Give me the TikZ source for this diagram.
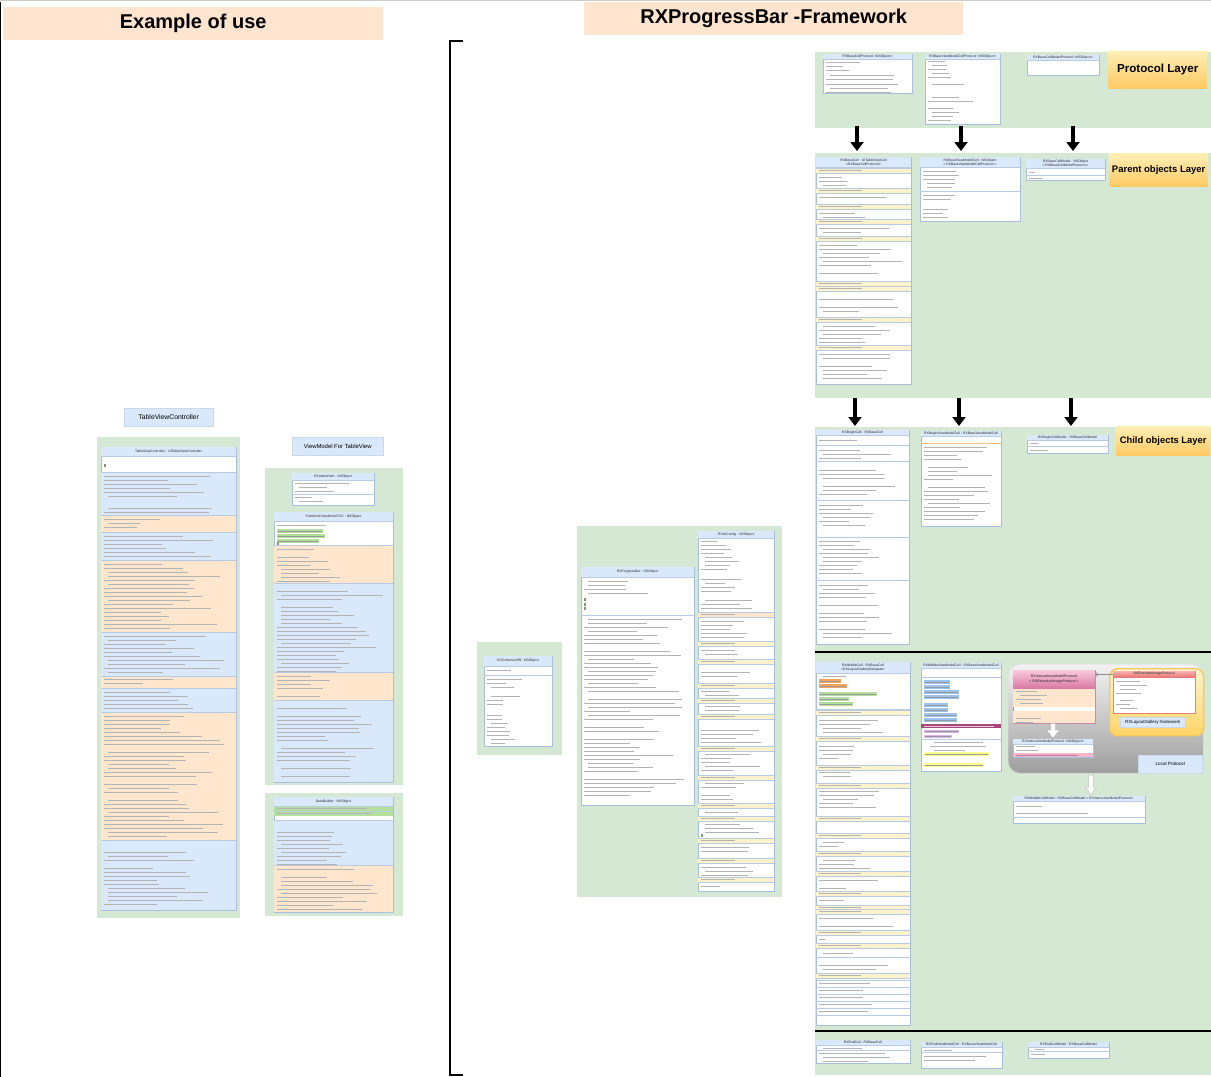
\documentclass[tikz,border=0pt]{standalone}
\usepackage{fontspec}
\setmainfont{Liberation Sans}
\usetikzlibrary{arrows.meta}
\definecolor{pgreen}{HTML}{D5E8D4}
\definecolor{hblue}{HTML}{DAE8FC}
\definecolor{bline}{HTML}{A7BEDC}
\definecolor{peach}{HTML}{FFE6CC}
\definecolor{cyel}{HTML}{FFF2CC}
\definecolor{tgray}{HTML}{B4B4B4}
\definecolor{hlorange}{HTML}{F7A35C}
\definecolor{hlgreen}{HTML}{B3DE9C}
\definecolor{hlblue}{HTML}{9CC3EE}
\definecolor{hlpurple}{HTML}{D9B3E6}
\definecolor{hlyellow}{HTML}{FFFF8C}
\definecolor{magrow}{HTML}{A8487A}
\definecolor{pinkT}{HTML}{F9C9DC}
\definecolor{pinkB}{HTML}{DB7AA5}
\definecolor{pinkline}{HTML}{C98AA8}
\definecolor{redT}{HTML}{F7B0B0}
\definecolor{redB}{HTML}{EB7777}
\definecolor{redline}{HTML}{E08080}
\definecolor{pinkrow}{HTML}{F4B6C8}
\definecolor{yelT}{HTML}{FFF4CC}
\definecolor{yelB}{HTML}{FFD466}
\definecolor{yelD}{HTML}{F6C75A}
\definecolor{labT}{HTML}{FFEFB5}
\definecolor{labB}{HTML}{FFCA63}
\definecolor{tpeach}{HTML}{FFE5CF}
\tikzset{
  panelbox/.style={fill=pgreen, draw=none, anchor=north west, inner sep=0pt, outer sep=0pt},
  ubox/.style={draw=bline, line width=0.5pt, fill=white, anchor=north west, inner sep=0pt, outer sep=0pt},
  htext/.style={font=\fontsize{3.4}{4.1}\selectfont, align=center, inner sep=0pt, text=black!85},
  txtl/.style={draw=tgray, line width=0.5pt},
  sepl/.style={draw=bline!80, line width=0.4pt},
  bigarrow/.style={line width=3.5pt, -{Triangle[width=13pt,length=9pt]}},
  warr/.style={fill=white, draw=black!25, line width=0.5pt},
  titlebox/.style={fill=tpeach, anchor=north west, inner sep=0pt, font=\bfseries\fontsize{20}{24}\selectfont},
  laybox/.style={anchor=north west, inner sep=0pt, top color=labT, bottom color=labB, font=\bfseries},
  lbl/.style={fill=hblue, draw=bline!60, line width=0.4pt, anchor=north west, inner sep=0pt},
  sepbar/.style={line width=2.5pt, draw=black},
}
\newcommand{\umlbox}[7]{%
  \node[ubox, minimum width=#4pt, minimum height=#5pt] (#1) at (#2,#3) {};
  \fill[hblue] (#2+0.25,#3+0.25) rectangle (#2+#4-0.25,#3+#6);
  \draw[sepl] (#2,#3+#6) -- ++(#4,0);
  \node[htext] at (#2+#4/2,#3+#6/2) {#7};
}
\newcommand{\bsec}[5]{%
  \fill[#5] (#1+0.25,#2) rectangle (#1+#3-0.25,#4);
  \draw[sepl] (#1,#2) -- ++(#3,0);
}
\newcommand{\txl}[4]{%
  \foreach \i in {1,...,#3}{%
    \pgfmathsetmacro\ll{rnd<0.12 ? 0 : (#4)*(0.45+0.55*rnd)}%
    \pgfmathsetmacro\off{rnd<0.3 ? 4 : 0}%
    \draw[txtl] (#1+\off,#2+4*\i-4) -- ++(\ll,0);
  }%
}
\newcommand{\hlbar}[4]{%
  \fill[#4] (#1,#2) rectangle ++(#3,3.6);
  \draw[txtl,draw=black!40] (#1+1,#2+1.8) -- ++(#3-2,0);
}
\newcommand{\catrow}[4]{%
  \bsec{#1}{#2}{#3}{#2+5}{#4}
  \draw[txtl] (#1+3,#2+2.5) -- ++(#3*0.45,0);
  \draw[sepl] (#1,#2+5) -- ++(#3,0);
}
\newcommand{\sepat}[3]{\draw[sepl] (#1,#2) -- ++(#3,0);}
\newcommand{\gmark}[2]{\fill[hlgreen!70!black] (#1,#2) rectangle ++(2,3);}
\newcommand{\warrow}[6]{%
  \draw[warr] (#1-#4,#2) -- (#1+#4,#2) -- (#1+#4,#3-#6) -- (#1+#5,#3-#6) -- (#1,#3)
    -- (#1-#5,#3-#6) -- (#1-#4,#3-#6) -- cycle;
}
\begin{document}
\begin{tikzpicture}[x=1pt,y=-1pt]
\pgfmathsetseed{11}
\useasboundingbox (0,0) rectangle (1211,1077);
\fill[white] (0,0) rectangle (1211,1077);
\draw[black!20, line width=0.6pt] (0,0.6) -- (1211,0.6);
\draw[black, line width=0.8pt] (0.6,2) -- (0.6,1077);

% ---------- titles ----------
\node[titlebox, minimum width=380pt, minimum height=33pt] (ex) at (3,7) {Example of use};
\node[titlebox, minimum width=379pt, minimum height=33pt] (fw) at (584,2) {RXProgressBar -Framework};

% ---------- bracket ----------
\coordinate (bt) at (463,41);
\coordinate (bb) at (463,1075);
\draw[line width=2pt] (bt) -- (450,41) -- (450,1075) -- (bb);

% ---------- layer panels ----------
\node[panelbox, minimum width=396pt, minimum height=76pt] (protL) at (815,52) {};
\node[panelbox, minimum width=396pt, minimum height=245pt] (parL) at (815,153) {};
\node[panelbox, minimum width=396pt, minimum height=648pt] (chL) at (815,427) {};
\node[laybox, minimum width=99pt, minimum height=37pt, font=\bfseries\fontsize{11.6}{13}\selectfont] (labP) at (1108,51) {Protocol Layer};
\node[laybox, minimum width=99pt, minimum height=33pt, font=\bfseries\fontsize{9.5}{11}\selectfont] (labPa) at (1109,153) {Parent objects Layer};
\node[laybox, minimum width=94pt, minimum height=29pt, font=\bfseries\fontsize{9.4}{11}\selectfont] (labC) at (1116,426) {Child objects Layer};

% arrows between layers
\coordinate (a1s) at (857,126); \coordinate (a1e) at (857,151);
\coordinate (a2s) at (961,126); \coordinate (a2e) at (961,151);
\coordinate (a3s) at (1073,126); \coordinate (a3e) at (1073,151);
\coordinate (b1s) at (855,398); \coordinate (b1e) at (855,426);
\coordinate (b2s) at (959,398); \coordinate (b2e) at (959,426);
\coordinate (b3s) at (1071,398); \coordinate (b3e) at (1071,426);
\foreach \s/\e in {a1s/a1e,a2s/a2e,a3s/a3e,b1s/b1e,b2s/b2e,b3s/b3e}{\draw[bigarrow] (\s) -- (\e);}

% separators in child panel
\coordinate (s1a) at (815,652); \coordinate (s1b) at (1211,652);
\coordinate (s2a) at (815,1031); \coordinate (s2b) at (1211,1031);
\draw[sepbar] (s1a) -- (s1b);
\draw[sepbar] (s2a) -- (s2b);

% ---------- protocol layer ----------
\umlbox{pb1}{823}{54}{89}{39}{5}{RXBaseCellProtocol <NSObject>}
\txl{826}{62}{3}{35}
\txl{826}{75}{2}{80}
\txl{826}{84}{3}{80}
\umlbox{pb2}{925}{54}{75}{70}{5}{RXBaseViewModelCellProtocol <NSObject>}
\txl{928}{61}{5}{30}
\txl{928}{80}{2}{45}
\txl{928}{93}{3}{55}
\txl{928}{108}{4}{30}
\umlbox{pb3}{1027}{55}{72}{20}{5}{RXBaseCellModelProtocol <NSObject>}

% ---------- parent layer ----------
\umlbox{pa1}{816}{157}{95}{227}{10}{RXBaseCell : UITableViewCell\\<RXBaseCellProtocol>}
\catrow{816}{168}{95}{cyel}
\txl{819}{177}{3}{40}
\catrow{816}{188}{95}{cyel}
\txl{819}{197}{2}{80}
\catrow{816}{204}{95}{cyel}
\txl{819}{213}{2}{75}
\catrow{816}{219}{95}{cyel}
\txl{819}{228}{2}{80}
\catrow{816}{236}{95}{cyel}
\txl{819}{245}{9}{80}
\catrow{816}{281}{95}{cyel}
\catrow{816}{286}{95}{cyel}
\txl{819}{295}{6}{80}
\catrow{816}{317}{95}{cyel}
\txl{819}{326}{5}{80}
\catrow{816}{345}{95}{cyel}
\txl{819}{354}{7}{80}
\umlbox{pa2}{920}{157}{100}{64}{10}{RXBaseViewModelCell : NSObject\\< RXBaseViewModelCellProtocol >}
\txl{923}{171}{5}{40}
\sepat{920}{191}{100}
\txl{923}{195}{3}{55}
\txl{923}{209}{3}{30}
\umlbox{pa3}{1026}{159}{79}{21}{9}{RXBaseCellModel : NSObject\\< RXBaseCellModelProtocol >}
\txl{1029}{172}{1}{12}
\sepat{1026}{175}{79}
\txl{1029}{178}{1}{20}

% ---------- child layer: begin ----------
\umlbox{ch1}{816}{430}{93}{214}{5}{RXBeginCell : RXBaseCell}
\txl{819}{440}{1}{45}
\sepat{816}{445}{93}
\txl{819}{450}{3}{80}
\sepat{816}{461}{93}
\txl{819}{466}{8}{80}
\sepat{816}{500}{93}
\txl{819}{505}{8}{60}
\sepat{816}{537}{93}
\txl{819}{541}{9}{60}
\sepat{816}{580}{93}
\txl{819}{585}{14}{80}
\umlbox{ch2}{921}{431}{80}{95}{5}{RXBeginViewModelCell : RXBaseViewModelCell}
\txl{924}{440}{1}{40}
\draw[draw=orange!50, line width=0.5pt] (921,443) -- ++(80,0);
\txl{924}{447}{19}{65}
\umlbox{ch3}{1027}{435}{81}{18}{5}{RXBeginCellModel : RXBaseCellModel}
\txl{1030}{443}{1}{10}
\sepat{1027}{446}{81}
\txl{1030}{450}{1}{20}

% ---------- child layer: middle ----------
\umlbox{mi1}{816}{662}{94}{363}{11}{RXMiddleCell : RXBaseCell\\<RXLayoutGalleryDelegate>}
\txl{819}{676}{1}{50}
\hlbar{819}{679}{22}{hlorange}
\hlbar{819}{684}{28}{hlorange}
\hlbar{819}{692}{58}{hlgreen}
\hlbar{819}{697}{30}{hlgreen}
\hlbar{819}{702}{34}{hlgreen}
\sepat{816}{709}{94}
\catrow{816}{710}{94}{cyel}
\txl{819}{720}{4}{70}
\catrow{816}{736}{94}{cyel}
\txl{819}{746}{5}{40}
\catrow{816}{765}{94}{cyel}
\txl{819}{772}{2}{60}
\catrow{816}{783}{94}{cyel}
\txl{819}{791}{5}{60}
\catrow{816}{816}{94}{cyel}
\txl{819}{825}{2}{40}
\catrow{816}{833}{94}{cyel}
\txl{819}{842}{2}{40}
\catrow{816}{851}{94}{cyel}
\txl{819}{860}{3}{70}
\catrow{816}{871}{94}{cyel}
\txl{819}{880}{3}{60}
\catrow{816}{891}{94}{cyel}
\txl{819}{900}{1}{35}
\catrow{816}{905}{94}{cyel}
\catrow{816}{909}{94}{cyel}
\txl{819}{918}{3}{75}
\catrow{816}{930}{94}{cyel}
\txl{819}{939}{1}{10}
\catrow{816}{943}{94}{cyel}
\txl{819}{953}{1}{65}
\sepat{816}{957}{94}
\txl{819}{961}{3}{75}
\catrow{816}{973}{94}{cyel}
\foreach \yy in {982,989,996,1003,1010,1017}{\sepat{816}{\yy-2}{94}\txl{819}{\yy+1}{1}{70}}
\umlbox{mi2}{921}{663}{80}{108}{5}{RXMiddleViewModelCell : RXBaseViewModelCell}
\txl{924}{673}{1}{35}
\sepat{921}{677}{80}
\hlbar{924}{680}{26}{hlblue}
\hlbar{924}{685}{26}{hlblue}
\hlbar{924}{690}{35}{hlblue}
\hlbar{924}{695}{35}{hlblue}
\hlbar{924}{703}{24}{hlblue}
\hlbar{924}{708}{24}{hlblue}
\hlbar{924}{713}{33}{hlblue}
\hlbar{924}{718}{33}{hlblue}
\fill[magrow] (921.25,724) rectangle (1000.75,727.5);
\draw[draw=white!70!magrow, line width=0.5pt] (924,725.75) -- ++(70,0);
\hlbar{924}{729.5}{35}{hlpurple}
\hlbar{924}{734.5}{28}{hlpurple}
\sepat{921}{739}{80}
\txl{930}{742}{3}{60}
\hlbar{924}{752}{65}{hlyellow}
\hlbar{924}{763}{60}{hlyellow}

% local protocol region
\node[anchor=north west, minimum width=195pt, minimum height=109pt, rounded corners=12pt, top color=black!5, bottom color=black!38, draw=black!15, inner sep=0pt] (locreg) at (1008,664) {};
\node[anchor=north west, minimum width=94pt, minimum height=67pt, rounded corners=8pt, top color=yelT, bottom color=yelB, draw=yelD, line width=1.4pt, inner sep=0pt] (galreg) at (1109,668) {};
% pink protocol
\node[ubox, draw=pinkline, minimum width=82pt, minimum height=53pt] (insp) at (1013,670) {};
\shade[top color=pinkT, bottom color=pinkB] (1013.25,670.25) rectangle (1094.75,688);
\node[htext, font=\fontsize{3.6}{4.4}\selectfont] at (1054,679) {RXInstructionsModelProtocol\\< RXExtendedImageProtocol >};
\fill[peach] (1013.25,688.5) rectangle (1094.75,707);
\fill[peach] (1013.25,711) rectangle (1094.75,722.75);
\txl{1016}{691}{4}{28}
\txl{1016}{714}{3}{28}
% extended image protocol
\node[ubox, draw=redline, minimum width=82pt, minimum height=42pt] (ext) at (1113,671) {};
\shade[top color=redT, bottom color=redB] (1113.25,671.25) rectangle (1194.75,677);
\node[htext] at (1154,674) {RXExtendedImageProtocol};
\txl{1116}{681}{4}{28}
\txl{1116}{700}{3}{28}
\node[lbl, minimum width=65pt, minimum height=10pt, font=\fontsize{4.4}{5}\selectfont] (lgf) at (1120,717) {RXLayoutGallery framework};
\draw[black!45, line width=0.5pt, -{Straight Barb[length=2.5pt,width=4pt]}] ([yshift=-3.5pt]ext.north west) -- ([yshift=-3.5pt]ext.north west -| insp.east);
% instruction model protocol
\umlbox{imp}{1013}{739}{80}{18}{5}{RXInstructionModelProtocol <NSObject>}
\txl{1016}{746.5}{2}{25}
\fill[pinkrow] (1013.25,753) rectangle (1092.75,756.75);
\draw[txtl, draw=magrow!70] (1016,754.9) -- ++(62,0);
\node[lbl, minimum width=64pt, minimum height=18pt, font=\fontsize{4.6}{5}\selectfont] (lp) at (1138,755) {Local Protocol};
\warrow{1053}{723.5}{738}{2.5}{6.5}{8}
\warrow{1091}{775}{795}{2.4}{5.5}{8}
% middle cell model
\umlbox{mcm}{1013}{796}{132}{27}{5}{RXMiddleCellModel : RXBaseCellModel < RXInstructionModelProtocol>}
\draw[txtl] (1016,806) -- ++(26,0);
\draw[txtl] (1016,813) -- ++(72,0);
\sepat{1013}{817}{132}

% ---------- child layer: end ----------
\umlbox{en1}{816}{1040}{94}{23}{5}{RXEndCell : RXBaseCell}
\txl{819}{1048}{1}{40}
\sepat{816}{1050}{94}
\txl{819}{1053}{3}{80}
\umlbox{en2}{921}{1042}{81}{26}{5}{RXEndViewModelCell : RXBaseViewModelCell}
\txl{924}{1050}{1}{40}
\sepat{921}{1052}{81}
\txl{924}{1056}{2}{70}
\umlbox{en3}{1028}{1042}{81}{16}{5}{RXEndCellModel : RXBaseCellModel}
\txl{1031}{1049}{1}{10}
\sepat{1028}{1051}{81}
\txl{1031}{1054}{1}{20}

% ---------- middle column ----------
\node[panelbox, minimum width=85pt, minimum height=113pt] (pcol) at (477,642) {};
\umlbox{colpb}{484}{656}{68}{90}{10}{RXCollectionPB : NSObject}
\txl{487}{670}{1}{35}
\sepat{484}{675}{68}
\txl{487}{679}{3}{40}
\txl{487}{696}{3}{35}
\txl{487}{715}{8}{30}
\node[panelbox, minimum width=205pt, minimum height=371pt] (pbar) at (577,526) {};
\umlbox{rxpb}{581}{567}{113}{238}{10}{RXProgressBar : NSObject}
\txl{584}{581}{4}{60}
\gmark{584}{598}\gmark{584}{602.5}\gmark{584}{607}
\sepat{581}{615}{113}
\txl{584}{619}{45}{100}
\umlbox{cfg}{698}{531}{76}{360}{7}{RXUIConfig : NSObject}
\txl{701}{541}{8}{35}
\txl{701}{579}{4}{45}
\txl{701}{600}{3}{65}
\catrow{698}{612}{76}{peach}
\txl{701}{621}{5}{55}
\catrow{698}{641}{76}{cyel}
\txl{701}{650}{2}{40}
\catrow{698}{659}{76}{cyel}
\txl{701}{668}{4}{55}
\catrow{698}{683}{76}{cyel}
\txl{701}{691}{2}{50}
\catrow{698}{698}{76}{cyel}
\txl{701}{706}{2}{50}
\catrow{698}{714}{76}{cyel}
\txl{701}{722}{6}{60}
\catrow{698}{746}{76}{cyel}
\txl{701}{754}{5}{60}
\catrow{698}{775}{76}{cyel}
\txl{701}{783}{5}{60}
\catrow{698}{803}{76}{cyel}
\txl{701}{812}{1}{50}
\catrow{698}{816}{76}{cyel}
\txl{701}{824}{3}{55}
\gmark{701}{834}
\catrow{698}{838}{76}{cyel}
\txl{701}{847}{3}{55}
\catrow{698}{858}{76}{cyel}
\txl{701}{867}{3}{55}
\catrow{698}{877}{76}{cyel}
\txl{701}{886}{1}{40}

% ---------- left column ----------
\node[lbl, minimum width=89pt, minimum height=18pt, font=\fontsize{6.8}{8}\selectfont] (tvcl) at (124,408) {TableViewController};
\node[panelbox, minimum width=143pt, minimum height=481pt] (ptvc) at (97,437) {};
\umlbox{tvc}{101}{447}{135}{463}{9}{TableViewController : UITableViewController}
\txl{104}{460}{1}{40}
\gmark{104}{464}
\bsec{101}{472}{135}{515}{hblue}
\txl{104}{476}{10}{110}
\bsec{101}{515}{135}{532}{peach}
\txl{104}{519}{3}{60}
\bsec{101}{532}{135}{560}{hblue}
\txl{104}{536}{6}{120}
\bsec{101}{560}{135}{632}{peach}
\txl{104}{564}{17}{120}
\bsec{101}{632}{135}{676}{hblue}
\txl{104}{636}{10}{120}
\bsec{101}{676}{135}{688}{peach}
\txl{104}{679}{2}{70}
\bsec{101}{688}{135}{712}{hblue}
\txl{104}{692}{5}{110}
\bsec{101}{712}{135}{840}{peach}
\txl{104}{716}{31}{120}
\bsec{101}{840}{135}{909.75}{hblue}
\txl{104}{844}{16}{100}

\node[lbl, minimum width=91pt, minimum height=18pt, font=\fontsize{5.9}{7}\selectfont] (vml) at (292,437) {ViewModel For TableView};
\node[panelbox, minimum width=138pt, minimum height=317pt] (pvm) at (265,468) {};
\umlbox{ipath}{292}{473}{82}{32}{7}{RXIndexPath : NSObject}
\txl{295}{483}{3}{60}
\sepat{292}{494}{82}
\txl{295}{497}{2}{30}
\umlbox{favm}{274}{512}{119}{270}{9}{FullArticleViewModelTVC : NSObject}
\txl{277}{525}{1}{50}
\hlbar{277}{529}{46}{hlgreen}
\hlbar{277}{534}{48}{hlgreen}
\hlbar{277}{539}{42}{hlgreen}
\gmark{277}{542}
\bsec{274}{545}{119}{583}{peach}
\txl{277}{549}{9}{60}
\bsec{274}{583}{119}{672}{hblue}
\txl{277}{587}{22}{105}
\bsec{274}{672}{119}{700}{peach}
\txl{277}{676}{6}{70}
\bsec{274}{700}{119}{781.75}{hblue}
\txl{277}{704}{19}{100}
\node[panelbox, minimum width=138pt, minimum height=123pt] (pdb) at (265,793) {};
\umlbox{dbld}{274}{797}{119}{115}{9}{DataBuilder : NSObject}
\bsec{274}{806}{119}{811}{hlgreen}
\bsec{274}{811}{119}{816}{hlgreen}
\draw[txtl] (277,808.5) -- ++(90,0);
\draw[txtl] (277,813.5) -- ++(95,0);
\txl{277}{818}{1}{40}
\bsec{274}{820}{119}{865}{hblue}
\txl{277}{824}{11}{90}
\bsec{274}{865}{119}{911.75}{peach}
\txl{277}{869}{11}{100}
\end{tikzpicture}
\end{document}
